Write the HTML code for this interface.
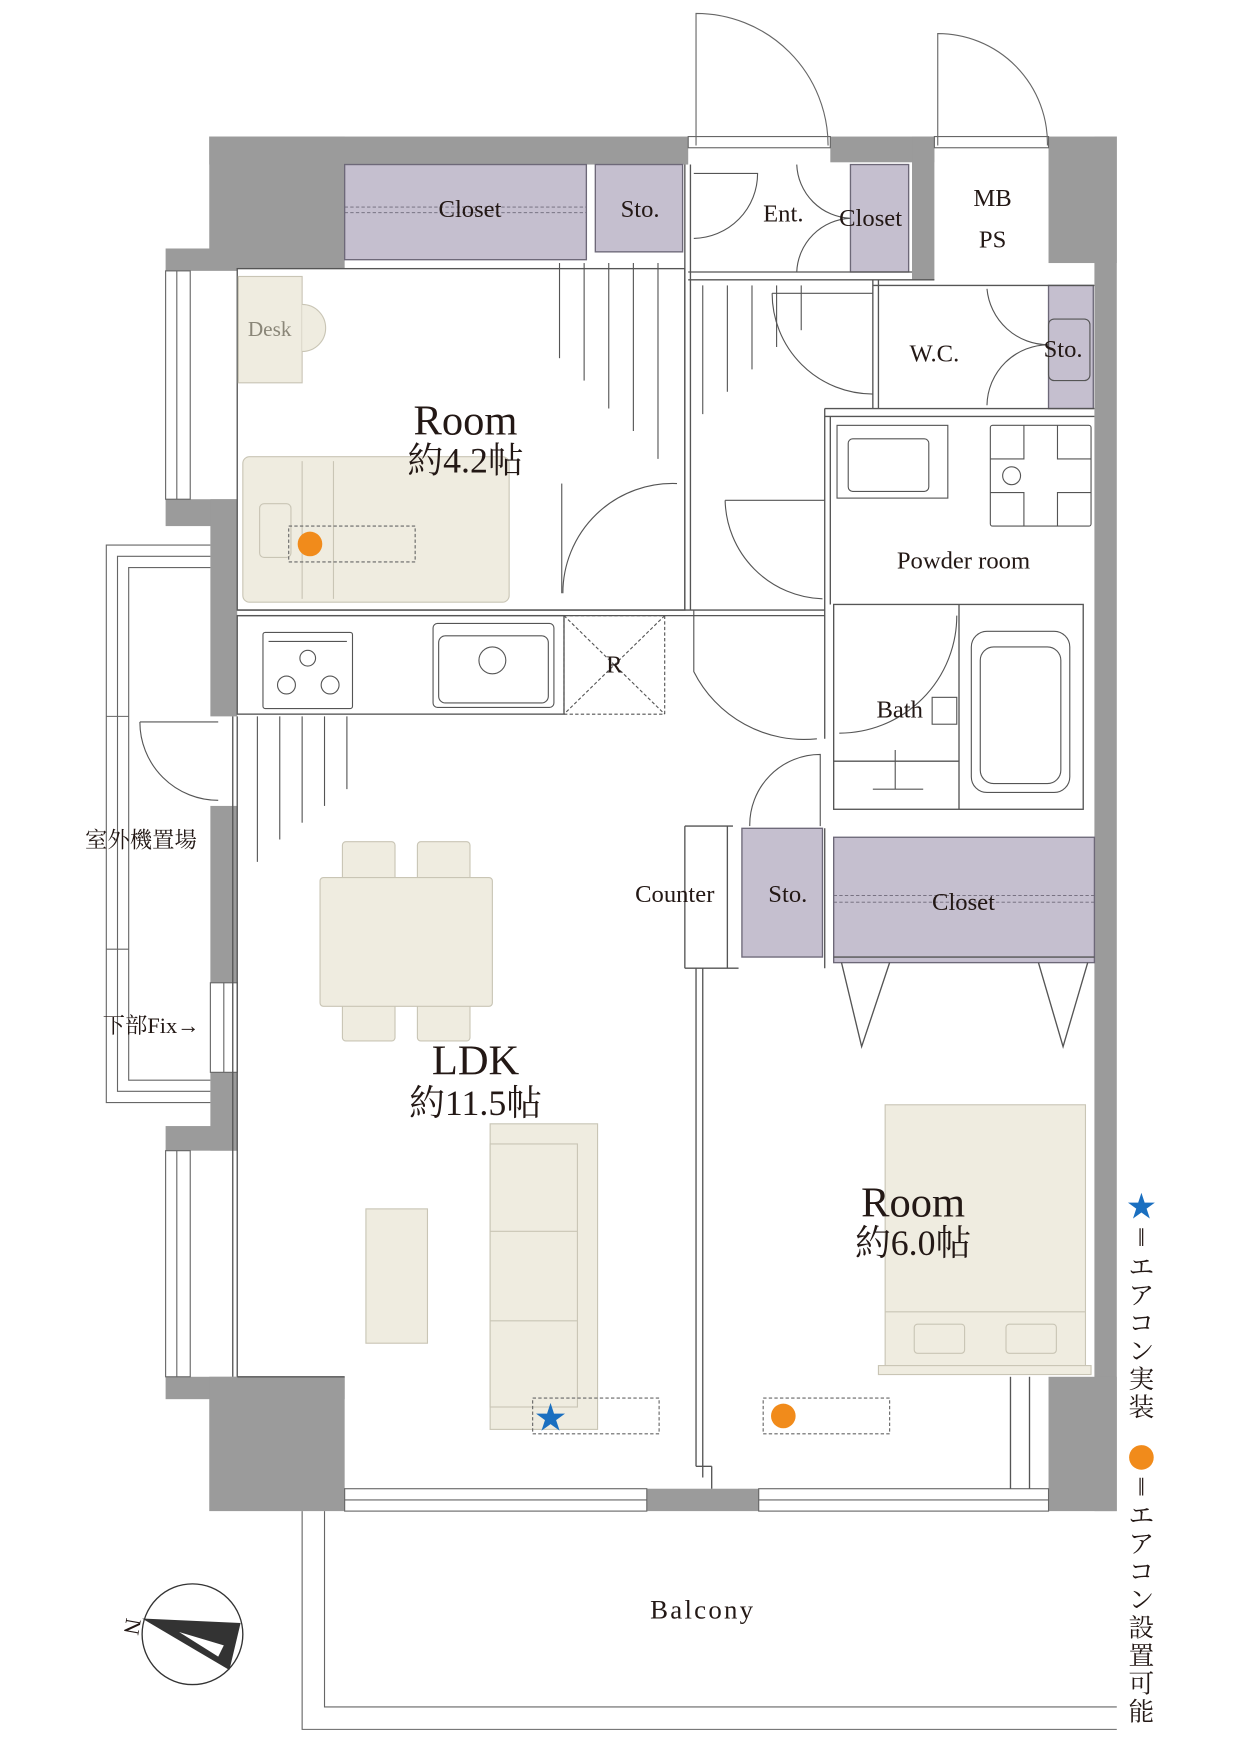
<!DOCTYPE html>
<html><head><meta charset="utf-8"><style>
html,body{margin:0;padding:0;background:#fff;}
svg{display:block;}
text{font-family:"Liberation Serif","Noto Serif CJK SC",serif;fill:#231815;}
</style></head><body>
<svg width="1241" height="1754" viewBox="0 0 1109 1567" preserveAspectRatio="none" xmlns="http://www.w3.org/2000/svg">
<g fill="#9b9b9b">
<rect x="187" y="122" width="428" height="25"/>
<rect x="187" y="122" width="121" height="118"/>
<rect x="148" y="222" width="64" height="20"/>
<rect x="148" y="446" width="64" height="24"/>
<rect x="188" y="446" width="24" height="194"/>
<rect x="188" y="720" width="24" height="158"/>
<rect x="188" y="958" width="24" height="70"/>
<rect x="148" y="1006" width="64" height="22"/>
<rect x="148" y="1230" width="160" height="20"/>
<rect x="187" y="1230" width="121" height="120"/>
<rect x="578" y="1330" width="100" height="20"/>
<rect x="742" y="122" width="93" height="23"/>
<rect x="815" y="122" width="20" height="128"/>
<rect x="937" y="122" width="61" height="113"/>
<rect x="978" y="122" width="20" height="1228"/>
<rect x="937" y="1230" width="61" height="120"/>
</g>
<g fill="none" stroke="#666" stroke-width="1">
<rect x="308" y="1330" width="270" height="20"/><line x1="308" y1="1340" x2="578" y2="1340"/>
<rect x="678" y="1330" width="259" height="20"/><line x1="678" y1="1340" x2="937" y2="1340"/>
<rect x="148" y="242" width="22" height="204"/><line x1="158" y1="242" x2="158" y2="446"/>
<rect x="148" y="1028" width="22" height="202"/><line x1="158" y1="1028" x2="158" y2="1230"/>
<rect x="188" y="878" width="24" height="80"/><line x1="200" y1="878" x2="200" y2="958"/>
<rect x="615" y="122" width="127" height="10"/>
<rect x="835" y="122" width="102" height="10"/>
<path d="M188 487 H95 V985 H188"/><path d="M188 497 H105 V975 H188"/><path d="M188 507 H115 V965 H188"/>
<line x1="95" y1="640" x2="115" y2="640"/><line x1="95" y1="848" x2="115" y2="848"/>
<path d="M270 1350 V1545 H998"/><path d="M290 1350 V1525 H998"/>
<path d="M622 130 V12 A118 118 0 0 1 740 130"/>
<path d="M838 130 V30 A98 98 0 0 1 936 130"/>
</g>
<g fill="#c5bfcf" stroke="#6d6878" stroke-width="1.2">
<rect x="308" y="147" width="216" height="85"/>
<rect x="532" y="147" width="78" height="78"/>
<rect x="760" y="147" width="52" height="96"/>
<rect x="937" y="255" width="40" height="110"/>
<rect x="663" y="740" width="72" height="115"/>
<rect x="745" y="748" width="233" height="112"/>
</g>
<g stroke="#6d6878" stroke-width="0.8" stroke-dasharray="3,2" fill="none">
<line x1="308" y1="185" x2="524" y2="185"/><line x1="308" y1="190" x2="524" y2="190"/>
<line x1="745" y1="800" x2="978" y2="800"/><line x1="745" y1="806" x2="978" y2="806"/>
</g>
<g fill="none" stroke="#555" stroke-width="1.2">
<rect x="212" y="240" width="400" height="305"/>
<line x1="612" y1="147" x2="612" y2="545"/><line x1="617" y1="147" x2="617" y2="545"/>
<line x1="615" y1="243" x2="815" y2="243"/><line x1="615" y1="250" x2="835" y2="250"/>
<line x1="780" y1="250" x2="780" y2="365"/><line x1="785" y1="250" x2="785" y2="365"/>
<line x1="780" y1="255" x2="978" y2="255"/>
<line x1="737" y1="365" x2="978" y2="365"/><line x1="737" y1="372" x2="978" y2="372"/>
<line x1="737" y1="365" x2="737" y2="660"/><line x1="742" y1="372" x2="742" y2="540"/>
<line x1="212" y1="545" x2="737" y2="545"/><line x1="212" y1="550" x2="737" y2="550"/>
<rect x="745" y="540" width="223" height="183"/>
<line x1="857" y1="540" x2="857" y2="723"/>
<line x1="745" y1="680" x2="857" y2="680"/>
<rect x="212" y="550" width="292" height="88"/>
<line x1="212" y1="640" x2="212" y2="1230"/><line x1="208" y1="640" x2="208" y2="1230"/>
<line x1="612" y1="738" x2="612" y2="865"/><line x1="612" y1="865" x2="660" y2="865"/>
<line x1="612" y1="738" x2="655" y2="738"/><line x1="650" y1="738" x2="650" y2="865"/>
<line x1="737" y1="740" x2="737" y2="865"/>
<line x1="628" y1="865" x2="628" y2="1320"/><line x1="622" y1="865" x2="622" y2="1310"/>
<line x1="622" y1="1310" x2="636" y2="1310"/><line x1="636" y1="1310" x2="636" y2="1330"/>
<line x1="745" y1="855" x2="978" y2="855"/>
<path d="M752 860 L770 935 L795 860"/><path d="M928 860 L950 935 L972 860"/>
<path d="M212 1230 H308"/>
<line x1="903" y1="1230" x2="903" y2="1330"/><line x1="920" y1="1230" x2="920" y2="1330"/>
</g>
<g fill="none" stroke="#555" stroke-width="1">
<path d="M502 530 V432"/>
<path d="M503 530 A98 98 0 0 1 605 432"/>
<path d="M620 545 V600 A110 110 0 0 0 730 660"/>
<path d="M648 447 H737 M648 447 A90 90 0 0 0 735 535"/>
<path d="M690 262 A90 90 0 0 0 780 352 M690 262 H780"/>
<path d="M620 155 H677 A58 58 0 0 1 620 213"/>
<path d="M712 147 A50 50 0 0 0 760 195 M712 243 A50 50 0 0 1 760 195"/>
<path d="M882 258 A55 55 0 0 0 937 308 M882 362 A55 55 0 0 1 937 308"/>
<path d="M750 655 A105 105 0 0 0 855 550"/>
<path d="M670 738 A63 63 0 0 1 733 674 V738"/>
<path d="M125 645 H195 M125 645 A70 70 0 0 0 195 715"/>
</g>
<g stroke="#555" stroke-width="1">
<line x1="500" y1="235" x2="500" y2="320"/><line x1="522" y1="235" x2="522" y2="340"/><line x1="544" y1="235" x2="544" y2="365"/><line x1="566" y1="235" x2="566" y2="385"/><line x1="588" y1="235" x2="588" y2="410"/>
<line x1="628" y1="255" x2="628" y2="370"/><line x1="650" y1="255" x2="650" y2="350"/><line x1="672" y1="255" x2="672" y2="330"/><line x1="694" y1="255" x2="694" y2="310"/><line x1="716" y1="255" x2="716" y2="295"/>
<line x1="230" y1="640" x2="230" y2="770"/><line x1="250" y1="640" x2="250" y2="750"/><line x1="270" y1="640" x2="270" y2="735"/><line x1="290" y1="640" x2="290" y2="720"/><line x1="310" y1="640" x2="310" y2="705"/>
</g>
<g fill="#efece0" stroke="#c9c5b5" stroke-width="1">
<rect x="213" y="247" width="57" height="95"/>
<path d="M270 272 A20 20 0 0 1 270 314"/>
<rect x="217" y="408" width="238" height="130" rx="6"/>
<rect x="306" y="752" width="47" height="35" rx="3"/><rect x="373" y="752" width="47" height="35" rx="3"/>
<rect x="306" y="895" width="47" height="35" rx="3"/><rect x="373" y="895" width="47" height="35" rx="3"/>
<rect x="286" y="784" width="154" height="115" rx="3"/>
<rect x="327" y="1080" width="55" height="120"/>
<rect x="438" y="1004" width="96" height="273"/>
<rect x="438" y="1022" width="78" height="235"/>
<line x1="438" y1="1100" x2="516" y2="1100"/><line x1="438" y1="1180" x2="516" y2="1180"/>
<rect x="791" y="987" width="179" height="235"/>
<line x1="791" y1="1172" x2="970" y2="1172"/>
<rect x="817" y="1183" width="45" height="26" rx="3"/><rect x="899" y="1183" width="45" height="26" rx="3"/>
<rect x="785" y="1220" width="190" height="8"/>
</g>
<g fill="none" stroke="#c9c5b5"><rect x="232" y="450" width="28" height="48" rx="4"/><line x1="270" y1="412" x2="270" y2="535"/><line x1="298" y1="412" x2="298" y2="535"/></g>
<g fill="none" stroke="#555" stroke-width="1">
<rect x="235" y="565" width="80" height="68" rx="2"/>
<line x1="240" y1="573" x2="310" y2="573"/>
<rect x="387" y="557" width="108" height="75" rx="4"/><rect x="392" y="568" width="98" height="60" rx="6"/>
<circle cx="440" cy="590" r="12"/>
<circle cx="275" cy="588" r="7"/><circle cx="256" cy="612" r="8"/><circle cx="295" cy="612" r="8"/>
<rect x="504" y="550" width="90" height="88" stroke-dasharray="3,2"/>
<path d="M504 550 L594 638 M594 550 L504 638" stroke-dasharray="3,2"/>
<rect x="748" y="380" width="99" height="65"/><rect x="758" y="392" width="72" height="47" rx="4"/>
<rect x="885" y="380" width="90" height="90" rx="2"/><circle cx="904" cy="425" r="8"/>
<path d="M885 410 H915 V380 M945 380 V410 H975 M885 440 H915 V470 M945 470 V440 H975"/>
<rect x="868" y="564" width="88" height="144" rx="14"/><rect x="876" y="578" width="72" height="122" rx="12"/>
<rect x="833" y="623" width="22" height="24"/>
<rect x="937" y="285" width="37" height="55" rx="5"/>
<path d="M780 705 H825 M800 670 V705"/>
</g>
<g fill="none" stroke="#666" stroke-width="1" stroke-dasharray="3,2">
<rect x="258" y="470" width="113" height="32"/>
<rect x="476" y="1249" width="113" height="32"/>
<rect x="682" y="1249" width="113" height="32"/>
</g>
<circle cx="277" cy="486" r="11" fill="#f18b1b"/>
<circle cx="700" cy="1265" r="11" fill="#f18b1b"/>
<text x="492" y="1276" font-size="28" style="fill:#1a6fc0" text-anchor="middle">★</text>
<g text-anchor="middle">
<text x="420" y="194" font-size="22">Closet</text>
<text x="572" y="194" font-size="22">Sto.</text>
<text x="700" y="198" font-size="22">Ent.</text>
<text x="778" y="202" font-size="22">Closet</text>
<text x="887" y="184" font-size="22">MB</text>
<text x="887" y="221" font-size="22">PS</text>
<text x="835" y="323" font-size="22">W.C.</text>
<text x="950" y="319" font-size="22">Sto.</text>
<text x="241" y="300" font-size="19" style="fill:#8a8678">Desk</text>
<text x="416" y="388" font-size="38">Room</text>
<text x="416" y="422" font-size="32">約4.2帖</text>
<text x="861" y="508" font-size="22">Powder room</text>
<text x="549" y="601" font-size="22">R</text>
<text x="804" y="641" font-size="22">Bath</text>
<text x="603" y="806" font-size="22">Counter</text>
<text x="704" y="806" font-size="22">Sto.</text>
<text x="861" y="813" font-size="22">Closet</text>
<text x="126" y="757" font-size="20">室外機置場</text>
<text x="135" y="923" font-size="20">下部Fix→</text>
<text x="425" y="960" font-size="38">LDK</text>
<text x="425" y="996" font-size="32">約11.5帖</text>
<text x="816" y="1087" font-size="38">Room</text>
<text x="816" y="1121" font-size="32">約6.0帖</text>
<text x="628" y="1446" font-size="24" letter-spacing="2">Balcony</text>
</g>
<circle cx="172" cy="1460" r="45" fill="#fff" stroke="#333" stroke-width="1.2"/>
<path d="M127 1446 L215 1450 L205 1492 Z" fill="#333"/>
<path d="M160 1458 L200 1470 L195 1480 Z" fill="#fff"/>
<text x="113" y="1445" font-size="20" transform="rotate(100 113 1445)">N</text>
<text x="1020" y="1087" font-size="26" style="fill:#1a6fc0" text-anchor="middle">★</text>
<g font-size="23" text-anchor="middle">
<text x="1020" y="1113">‖</text>
<text x="1020" y="1140">エ</text><text x="1020" y="1165">ア</text><text x="1020" y="1190">コ</text><text x="1020" y="1215">ン</text><text x="1020" y="1240">実</text><text x="1020" y="1265">装</text>
</g>
<circle cx="1020" cy="1302" r="11" fill="#f18b1b"/>
<g font-size="23" text-anchor="middle">
<text x="1020" y="1336">‖</text>
<text x="1020" y="1362">エ</text><text x="1020" y="1387">ア</text><text x="1020" y="1412">コ</text><text x="1020" y="1437">ン</text><text x="1020" y="1462">設</text><text x="1020" y="1487">置</text><text x="1020" y="1512">可</text><text x="1020" y="1537">能</text>
</g>
</svg>
</body></html>
